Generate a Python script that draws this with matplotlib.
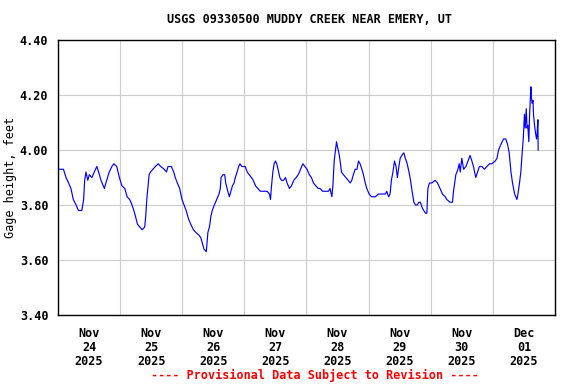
import numpy as np
import pandas as pd
import matplotlib
matplotlib.use("agg")
import matplotlib.pyplot as plt
import matplotlib.dates as mdates

title = "USGS 09330500 MUDDY CREEK NEAR EMERY, UT"
ylabel = "Gage height, feet"
footer = "---- Provisional Data Subject to Revision ----"
start = pd.Timestamp("2025-11-24 00:00")
end = pd.Timestamp("2025-12-02 00:00")

# hours after Nov 24 00:00
hours = [0.3, 2.1, 3.1, 4.1, 5.0, 5.9, 7.0, 7.9, 9.2, 9.9, 10.3, 10.8, 11.5, 12.1, 13.1, 14.0,
         15.0, 15.7, 16.6, 17.9, 18.8, 19.8, 20.8, 21.6, 22.7, 23.7,
         24.7, 25.8, 26.7, 27.7, 28.6, 29.3, 29.9, 30.7, 31.6, 32.5, 33.5, 33.9, 34.3, 34.8,
         35.2, 35.7, 36.7, 37.6, 38.7, 39.7, 41.0, 41.9, 42.5, 43.8, 44.7, 45.3, 46.1, 47.0,
         47.9, 48.7, 49.5, 50.4, 51.3, 52.3, 53.3, 54.5, 55.2, 55.8, 56.4, 57.3, 57.9, 58.5,
         59.1, 59.6, 60.4, 61.3, 62.2, 62.7, 63.0, 63.7, 64.4, 64.8, 65.6, 66.2, 66.8, 67.4,
         68.0, 68.5, 69.2, 69.8, 70.3, 71.0, 72.3,
         73.1, 73.9, 74.7, 75.4, 76.3, 77.2, 78.2, 79.5, 80.8, 81.7, 82.1, 82.4, 83.0, 83.5,
         84.0, 84.5, 85.0, 85.7, 86.3, 87.2, 87.9, 88.5, 89.4, 90.2, 91.1, 92.0, 92.8, 93.7,
         94.6, 95.4,
         96.2, 97.1, 97.9, 98.7, 99.6, 100.5, 101.3, 102.2, 103.5, 104.5, 105.1, 105.8, 106.2,
         106.7, 107.2, 107.6, 108.0, 108.5, 109.0, 109.5, 110.3, 111.2, 112.1, 112.9, 113.5,
         114.1, 114.8, 115.5, 116.1, 116.7, 117.4, 118.0, 118.7, 119.3,
         120.2, 121.1, 122.6, 123.8, 125.2, 126.5, 127.0, 127.7, 128.3, 128.8, 129.4, 130.0,
         130.6, 131.1, 131.7, 132.2, 132.8, 133.6, 134.2, 134.9, 135.6, 136.2, 136.8, 137.5,
         138.1, 138.8, 139.4, 140.0, 140.7, 141.3, 142.0, 142.5, 142.9,
         143.5, 144.4, 145.7, 146.6, 147.6, 148.5, 149.6, 150.2, 151.5, 152.4, 152.8, 153.7,
         154.5, 155.0, 155.4, 156.0, 156.7, 157.6, 158.4, 159.2, 159.9, 160.5, 161.4, 162.1,
         162.8, 163.8, 164.7, 165.7, 166.7, 167.6,
         168.9, 169.6, 170.2, 171.1, 172.1, 173.0, 173.7, 174.3, 175.0, 175.6, 176.4, 177.3,
         177.7, 178.3, 178.8, 179.5, 179.8, 180.2, 180.5, 180.9, 181.2, 181.5, 181.9, 182.2,
         182.4, 182.7, 182.9, 183.2, 183.5, 183.7, 184.1, 184.5, 184.9, 185.1, 185.4, 185.5]

gage = [3.93, 3.93, 3.90, 3.88, 3.86, 3.82, 3.80, 3.78, 3.78, 3.82, 3.89, 3.92, 3.89, 3.91, 3.90, 3.92,
        3.94, 3.92, 3.89, 3.86, 3.89, 3.92, 3.94, 3.95, 3.94, 3.90,
        3.87, 3.86, 3.83, 3.82, 3.80, 3.78, 3.76, 3.73, 3.72, 3.71, 3.72, 3.76, 3.82, 3.87,
        3.91, 3.92, 3.93, 3.94, 3.95, 3.94, 3.93, 3.92, 3.94, 3.94, 3.92, 3.90, 3.88, 3.86,
        3.82, 3.80, 3.78, 3.75, 3.73, 3.71, 3.70, 3.69, 3.68, 3.66, 3.64, 3.63, 3.70, 3.72,
        3.76, 3.78, 3.80, 3.82, 3.84, 3.86, 3.90, 3.91, 3.91, 3.88, 3.85, 3.83, 3.85, 3.87,
        3.88, 3.90, 3.92, 3.94, 3.95, 3.94, 3.94,
        3.92, 3.91, 3.90, 3.89, 3.87, 3.86, 3.85, 3.85, 3.85, 3.84, 3.82, 3.86, 3.92, 3.95,
        3.96, 3.95, 3.93, 3.90, 3.89, 3.89, 3.90, 3.88, 3.86, 3.87, 3.89, 3.90, 3.91, 3.93,
        3.95, 3.94,
        3.93, 3.91, 3.90, 3.88, 3.87, 3.86, 3.86, 3.85, 3.85, 3.85, 3.86, 3.83, 3.87,
        3.96, 4.00, 4.03, 4.01, 3.99, 3.96, 3.92, 3.91, 3.90, 3.89, 3.88, 3.89,
        3.91, 3.93, 3.93, 3.96, 3.95, 3.93, 3.91, 3.88, 3.86,
        3.84, 3.83, 3.83, 3.84, 3.84, 3.84, 3.85, 3.83, 3.84, 3.89, 3.92, 3.96,
        3.94, 3.90, 3.94, 3.97, 3.98, 3.99, 3.97, 3.95, 3.92, 3.89, 3.85, 3.81,
        3.80, 3.80, 3.81, 3.81, 3.79, 3.78, 3.77, 3.77, 3.86,
        3.88, 3.88, 3.89, 3.88, 3.86, 3.84, 3.83, 3.82, 3.81, 3.81, 3.85, 3.91,
        3.93, 3.95, 3.92, 3.97, 3.93, 3.94, 3.96, 3.98, 3.96, 3.94, 3.90, 3.92,
        3.94, 3.94, 3.93, 3.94, 3.95, 3.95,
        3.96, 3.97, 4.00, 4.02, 4.04, 4.04, 4.02, 3.99, 3.92, 3.88, 3.84, 3.82,
        3.84, 3.88, 3.92, 4.01, 4.05, 4.13, 4.08, 4.15, 4.08, 4.09, 4.03, 4.13,
        4.17, 4.23, 4.19, 4.17, 4.18, 4.13, 4.09, 4.06, 4.04, 4.06, 4.11, 4.00]

yticks = [3.40, 3.60, 3.80, 4.00, 4.20, 4.40]

times = start + pd.to_timedelta(hours, unit="h")

font = {"family": "DejaVu Sans Mono", "weight": "bold", "size": 8.5}
plt.rcParams["font.family"] = "DejaVu Sans Mono"
plt.rcParams["font.weight"] = "bold"
plt.rcParams["font.size"] = 8.5

fig = plt.figure(figsize=(5.76, 3.84), dpi=100)
ax = fig.add_axes([0.1007, 0.1797, 0.8628, 0.7161])

ax.plot(times, gage, color="#0000ff", linewidth=0.85)

ax.set_xlim(start, end)
ax.set_ylim(3.40, 4.40)
ax.set_yticks(yticks)
ax.set_yticklabels(["%.2f" % v for v in yticks])

# gridlines at midnight, labels at noon
ax.xaxis.set_major_locator(mdates.DayLocator())
ax.xaxis.set_major_formatter(plt.NullFormatter())
ax.xaxis.set_minor_locator(mdates.HourLocator(byhour=12))
ax.xaxis.set_minor_formatter(mdates.DateFormatter("%b\n%d\n%Y"))
ax.tick_params(axis="x", which="both", length=0)
ax.tick_params(axis="x", which="minor", pad=9)
ax.tick_params(axis="y", length=0, pad=7)
for lab in ax.xaxis.get_minorticklabels():
    lab.set_linespacing(1.1)

ax.grid(True, which="major", color="#cccccc", linewidth=0.8)
ax.set_axisbelow(True)
for s in ax.spines.values():
    s.set_color("black")
    s.set_linewidth(1.0)

ax.set_ylabel(ylabel, labelpad=2)
fig.text(0.5365, 0.948, title, ha="center", va="center", **font)
fig.text(0.5469, 0.023, footer, ha="center", va="center", color="red", **font)

fig.savefig("out.png", dpi=100)
